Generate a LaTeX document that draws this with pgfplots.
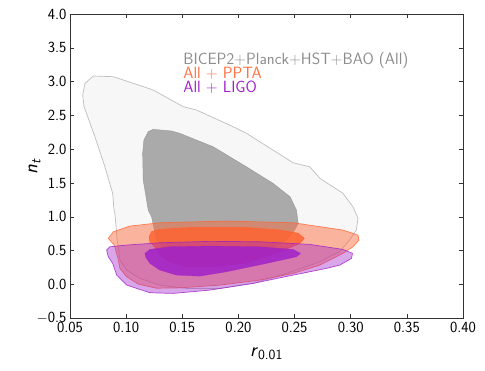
\documentclass[border=0pt]{standalone}
\usepackage{fontspec}
\usepackage{pgfplots}
\pgfplotsset{compat=1.18}
\renewcommand{\familydefault}{\sfdefault}

\definecolor{gfill}{RGB}{247,247,247}
\definecolor{gedge}{RGB}{190,190,190}
\definecolor{ginner}{RGB}{170,170,170}
\definecolor{gtext}{RGB}{140,140,140}
\definecolor{ppta}{RGB}{255,100,50}
\definecolor{pptatext}{RGB}{255,112,64}
\definecolor{ligo}{RGB}{160,32,200}

\begin{document}
\begin{tikzpicture}
  \useasboundingbox (-70pt,-51.7pt) rectangle (415pt,318.3pt);
  \begin{axis}[
    scale only axis,
    width=393pt,
    height=304.3pt,
    xmin=0.05, xmax=0.40,
    ymin=-0.5, ymax=4.0,
    xtick={0.05,0.10,0.15,0.20,0.25,0.30,0.35,0.40},
    xticklabels={0.05,0.10,0.15,0.20,0.25,0.30,0.35,0.40},
    ytick={-0.5,0,0.5,1,1.5,2,2.5,3,3.5,4},
    yticklabels={$-$0.5,0.0,0.5,1.0,1.5,2.0,2.5,3.0,3.5,4.0},
    tick align=inside,
    tick pos=both,
    major tick length=4pt,
    tick style={black!80, line width=0.6pt},
    axis line style={black!80, line width=0.9pt},
    tick label style={font=\fontsize{15.5}{18}\selectfont},
    label style={font=\fontsize{20}{24}\selectfont},
    xlabel={\textit{r}\textsubscript{0.01}},
    ylabel={\textit{n}\textsubscript{\textit{t}}},
    xlabel style={at={(axis description cs:0.5,-0.125)}, anchor=base},
    ylabel style={at={(axis description cs:-0.09,0.5)}, anchor=center},
  ]
    % BICEP2+Planck+HST+BAO (All)
    \addplot[fill=gfill, draw=gedge, line width=0.7pt] coordinates {
      (0.0708,3.083) (0.0885,3.073) (0.1241,2.876) (0.1508,2.63) (0.1627,2.58)
      (0.1953,2.333) (0.2072,2.235) (0.2487,1.80) (0.2636,1.74) (0.2725,1.57)
      (0.293,1.35) (0.302,1.15) (0.3065,0.978) (0.305,0.805) (0.299,0.657)
      (0.290,0.484) (0.2725,0.336) (0.243,0.165) (0.213,0.016) (0.1835,-0.058)
      (0.1538,-0.058) (0.130,-0.009) (0.1123,0.09) (0.1005,0.213) (0.0945,0.36)
      (0.092,0.657) (0.090,1.05) (0.0892,1.10) (0.088,1.35) (0.0811,1.74)
      (0.0722,2.185) (0.0625,2.63) (0.0613,2.80) (0.0633,2.975)
    } -- cycle;
    \addplot[fill=ginner, draw=ginner!90!black, line width=0.4pt] coordinates {
      (0.1197,2.26) (0.124,2.294) (0.1405,2.27) (0.1479,2.235) (0.1775,2.037)
      (0.2072,1.74) (0.2309,1.495) (0.246,1.297) (0.2517,1.10) (0.2532,0.904)
      (0.250,0.805) (0.243,0.657) (0.225,0.484) (0.2013,0.386) (0.1775,0.35)
      (0.1538,0.386) (0.136,0.484) (0.127,0.657) (0.1227,1.0) (0.1197,1.10)
      (0.1152,1.544) (0.1147,1.94) (0.1158,2.136)
    } -- cycle;
    % All + PPTA
    \addplot[fill=ppta, fill opacity=0.45, draw=ppta, draw opacity=0.8, line width=0.7pt] coordinates {
      (0.0841,0.682) (0.0886,0.78) (0.1034,0.864) (0.130,0.913) (0.1894,0.938)
      (0.2487,0.913) (0.293,0.805) (0.3065,0.73) (0.3074,0.657) (0.302,0.558)
      (0.293,0.46) (0.2725,0.287) (0.2487,0.164) (0.219,0.065) (0.1835,-0.009)
      (0.1479,-0.05) (0.127,-0.055) (0.1108,0.006) (0.1005,0.114) (0.0945,0.238)
      (0.0924,0.41) (0.0894,0.583)
    } -- cycle;
    \addplot[fill=ppta, fill opacity=0.85, draw=ppta, line width=0.7pt] coordinates {
      (0.1206,0.706) (0.1227,0.78) (0.130,0.815) (0.1597,0.845) (0.204,0.845)
      (0.2369,0.805) (0.2532,0.756) (0.2585,0.682) (0.2547,0.608) (0.2369,0.484)
      (0.2072,0.32) (0.1775,0.262) (0.1538,0.262) (0.139,0.336) (0.130,0.435)
      (0.1256,0.558) (0.1212,0.632)
    } -- cycle;
    % All + LIGO
    \addplot[fill=ligo, fill opacity=0.4, draw=ligo, draw opacity=0.8, line width=0.7pt] coordinates {
      (0.0826,0.509) (0.0856,0.558) (0.1005,0.583) (0.130,0.617) (0.1746,0.638)
      (0.219,0.632) (0.2636,0.593) (0.293,0.519) (0.3016,0.46) (0.3007,0.386)
      (0.2903,0.287) (0.2784,0.238) (0.2487,0.139) (0.213,0.016) (0.1746,-0.083)
      (0.1419,-0.132) (0.1212,-0.122) (0.1005,-0.009) (0.0916,0.139) (0.088,0.312)
      (0.0841,0.41)
    } -- cycle;
    \addplot[fill=ligo, fill opacity=0.85, draw=ligo, draw opacity=0.6, line width=0.4pt] coordinates {
      (0.1167,0.46) (0.1212,0.519) (0.139,0.558) (0.1746,0.568) (0.219,0.558)
      (0.2487,0.519) (0.2553,0.46) (0.2517,0.41) (0.225,0.312) (0.1894,0.188)
      (0.1657,0.124) (0.1449,0.139) (0.130,0.213) (0.1212,0.312) (0.1176,0.40)
    } -- cycle;

    \node[anchor=base west, inner sep=0pt, text=gtext, font=\fontsize{16.3}{19}\selectfont]
      at (axis cs:0.1508,3.26) {BICEP2+Planck+HST+BAO (All)};
    \node[anchor=base west, inner sep=0pt, text=pptatext, font=\fontsize{16.3}{19}\selectfont]
      at (axis cs:0.1508,3.043) {All + PPTA};
    \node[anchor=base west, inner sep=0pt, text=ligo, font=\fontsize{16.3}{19}\selectfont]
      at (axis cs:0.1508,2.846) {All + LIGO};
  \end{axis}
\end{tikzpicture}
\end{document}
